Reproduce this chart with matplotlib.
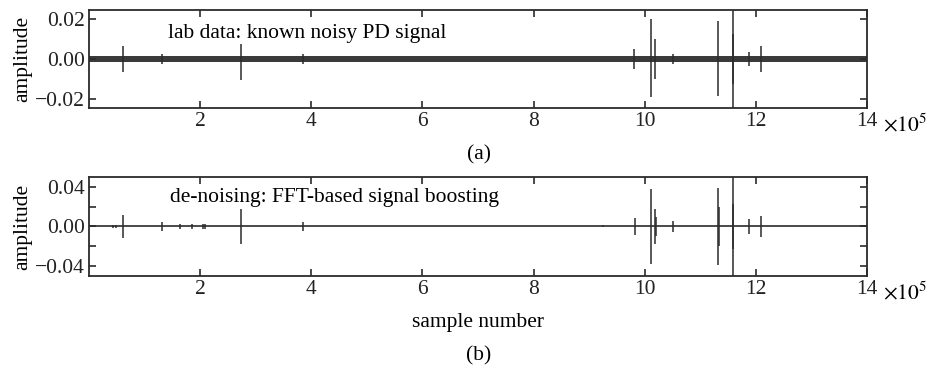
import numpy as np
import matplotlib
matplotlib.use("Agg")
import matplotlib.pyplot as plt
from matplotlib.ticker import MultipleLocator

# panel (a): raw lab signal, spike positions (sample no.) and extents
noise_a = 0.0016
pos_a = [0.61e5, 1.32e5, 2.74e5, 3.85e5, 9.80e5, 10.12e5, 10.18e5, 10.50e5,
         11.32e5, 11.58e5, 11.58e5, 11.87e5, 12.09e5]
hi_a = [0.0065, 0.0025, 0.0075, 0.0025, 0.005, 0.020, 0.010, 0.0025,
        0.019, 0.030, 0.0125, 0.0035, 0.0065]
lo_a = [-0.0065, -0.0025, -0.0105, -0.0025, -0.005, -0.019, -0.010, -0.0025,
        -0.0185, -0.030, -0.0125, -0.0035, -0.0065]

# panel (b): de-noised signal, spike positions and half amplitudes
pos_b = [0.43e5, 0.49e5, 0.62e5, 1.32e5, 1.63e5, 1.85e5, 2.05e5, 2.08e5,
         2.74e5, 3.85e5, 9.24e5, 9.82e5, 10.11e5, 10.18e5, 10.20e5, 10.50e5,
         11.32e5, 11.34e5, 11.58e5, 11.58e5, 11.87e5, 12.09e5]
amp_b = [0.002, 0.002, 0.012, 0.0045, 0.003, 0.003, 0.003, 0.0025,
         0.018, 0.005, 0.001, 0.009, 0.038, 0.018, 0.010, 0.006,
         0.039, 0.020, 0.060, 0.023, 0.008, 0.011]

x_range = [0, 14e5]
xticks = [2e5, 4e5, 6e5, 8e5, 10e5, 12e5, 14e5]
xticklabels = ["2", "4", "6", "8", "10", "12", "14"]

plt.rcParams["font.family"] = ["Liberation Serif", "DejaVu Serif"]
plt.rcParams["mathtext.fontset"] = "stix"
plt.rcParams["font.size"] = 15.5

ink = "#2b2b2b"
fig = plt.figure(figsize=(9.33, 3.65), dpi=100)
ax1 = fig.add_axes([0.0954, 0.704, 0.834, 0.2685])
ax2 = fig.add_axes([0.0954, 0.244, 0.834, 0.271])


def style(ax):
    for s in ax.spines.values():
        s.set_color(ink)
        s.set_linewidth(1.3)
    ax.tick_params(which="both", direction="in", top=True, right=True,
                   length=5, width=1.2, color=ink, pad=3, labelcolor="#222")
    ax.set_xlim(x_range)
    ax.set_xticks(xticks)
    ax.set_xticklabels(xticklabels)
    ax.set_ylabel("amplitude", labelpad=2)


# (a)
ax1.fill_between(x_range, -noise_a, noise_a, color="#3a3a3a", lw=0)
ax1.vlines(pos_a, lo_a, hi_a, color=ink, lw=1.1)
ax1.set_ylim(-0.0245, 0.0245)
ax1.set_yticks([-0.02, 0, 0.02])
ax1.set_yticklabels(["\u22120.02", "0.00", "0.02"])
style(ax1)
ax1.text(0.1015, 0.765, "lab data: known noisy PD signal", transform=ax1.transAxes,
         va="center", ha="left")

# (b)
ax2.plot(x_range, [0, 0], color=ink, lw=1.2)
ax2.vlines(pos_b, -np.array(amp_b), np.array(amp_b), color=ink, lw=1.1)
ax2.set_ylim(-0.05, 0.05)
ax2.set_yticks([-0.04, 0, 0.04])
ax2.set_yticklabels(["\u22120.04", "0.00", "0.04"])
ax2.yaxis.set_minor_locator(MultipleLocator(0.02))
style(ax2)
ax2.text(0.104, 0.79, "de-noising: FFT-based signal boosting", transform=ax2.transAxes,
         va="center", ha="left")
ax2.set_xlabel("sample number", labelpad=10)

fig.text(883 / 933, 1 - 125 / 365, r"$\times10^{5}$", ha="left", va="center")
fig.text(883 / 933, 1 - 293 / 365, r"$\times10^{5}$", ha="left", va="center")

fig.text(0.513, 1 - 155 / 365, "(a)", ha="center", va="center")
fig.text(0.513, 1 - 356 / 365, "(b)", ha="center", va="center")

fig.savefig("out.png", dpi=100)
